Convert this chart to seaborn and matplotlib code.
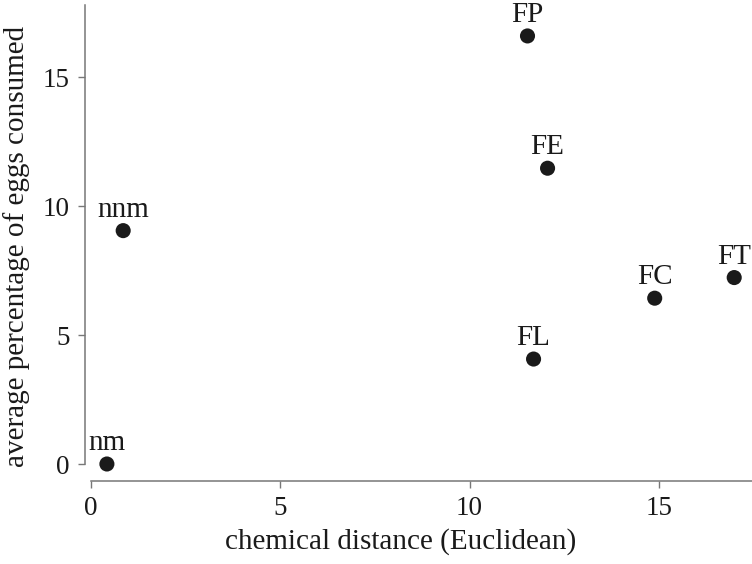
import matplotlib
matplotlib.use("Agg")
import matplotlib.pyplot as plt
import seaborn as sns
import pandas as pd

labels = ["nm", "nnm", "FP", "FE", "FL", "FC", "FT"]
distance = [0.42, 0.85, 11.53, 12.06, 11.69, 14.89, 16.99]
eggs_consumed = [0.0, 9.05, 16.60, 11.47, 4.07, 6.43, 7.23]
x_ticks = [0, 5, 10, 15]
y_ticks = [0, 5, 10, 15]

df = pd.DataFrame({"label": labels, "distance": distance, "eggs": eggs_consumed})

sns.set_theme(style="ticks")
plt.rcParams["font.family"] = ["Liberation Serif", "DejaVu Serif"]

fig = plt.figure(figsize=(7.52, 5.64), dpi=100)
ax = fig.add_axes([91 / 752, 100 / 564, 661 / 752, 459 / 564])

sns.scatterplot(data=df, x="distance", y="eggs", ax=ax, color="#1a1a1a",
                s=118, edgecolor="none", clip_on=False, zorder=3)

for lab, xv, yv in zip(df["label"], df["distance"], df["eggs"]):
    ax.annotate(lab, (xv, yv), xytext=(0, 10), textcoords="offset points",
                ha="center", va="baseline", fontsize=21, color="#1a1a1a")

ax.set_xlim(0, 17.46)
ax.set_ylim(0, 17.8)
ax.set_xticks(x_ticks)
ax.set_yticks(y_ticks)

ax.set_xlabel("chemical distance (Euclidean)", fontsize=21, color="#1a1a1a")
ax.set_ylabel("average percentage of eggs consumed", fontsize=21, color="#1a1a1a")
ax.xaxis.set_label_coords(0.469, -0.14)
ax.yaxis.set_label_coords(-0.092, 0.475)

for side in ["top", "right"]:
    ax.spines[side].set_visible(False)
ax.spines["left"].set_position(("outward", 4.3))
ax.spines["bottom"].set_position(("outward", 11.9))
for side in ["left", "bottom"]:
    ax.spines[side].set_color("#777777")
    ax.spines[side].set_linewidth(1.1)

ax.tick_params(axis="both", colors="#777777", labelcolor="#1a1a1a",
               labelsize=19.5, length=5, width=1.0, pad=6)

fig.savefig("out.png", dpi=100)
